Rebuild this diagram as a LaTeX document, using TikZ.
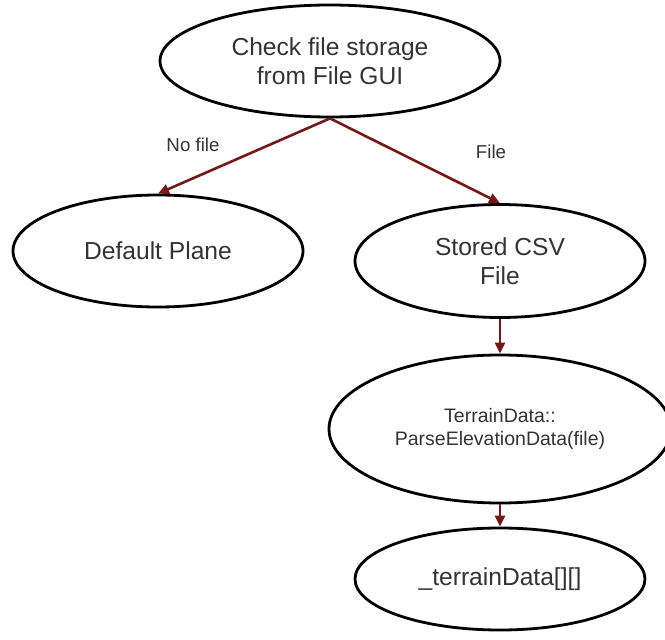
\documentclass[tikz,border=0pt]{standalone}
\usepackage{fontspec}
\setmainfont{Liberation Sans}
\usetikzlibrary{shapes.geometric,arrows.meta}
\definecolor{linkred}{HTML}{761818}
\definecolor{txtgray}{HTML}{333333}
\tikzset{
  oval/.style={ellipse, draw=black, line width=2.8pt, inner sep=0pt,
    text=txtgray, align=center, font=\fontsize{24.6}{29}\selectfont},
  flow/.style={draw=linkred, line width=2.6pt,
    -{Triangle[length=11pt,width=10pt]}},
  edgelabel/.style={text=txtgray, font=\fontsize{18.7}{22}\selectfont}
}
\begin{document}
\begin{tikzpicture}[x=1pt,y=-1pt]
  \useasboundingbox (0,0) rectangle (665,640);

  \node[oval, minimum width=340pt, minimum height=112pt] (check) at (330,61)
    {Check file storage\\from File GUI};
  \node[oval, minimum width=290pt, minimum height=112pt] (plane) at (158,251)
    {Default Plane};
  \node[oval, minimum width=290pt, minimum height=113pt] (csv) at (500,261)
    {Stored CSV\\File};
  \node[oval, minimum width=342pt, minimum height=148pt,
        font=\fontsize{19.5}{22.5}\selectfont] (parse) at (500,429)
    {TerrainData::\\ParseElevationData(file)};
  \node[oval, minimum width=290pt, minimum height=102pt] (grid) at (500,579)
    {\_terrainData[][]};

  \draw[flow] (check.south) -- (plane.north);
  \draw[flow] (check.south) -- (csv.north);
  \draw[flow] (csv.south) -- (parse.north);
  \draw[flow] (parse.south) -- (grid.north);

  \node[edgelabel] (nofile) at (193,145) {No file};
  \node[edgelabel] (yesfile) at (491,152) {File};
\end{tikzpicture}
\end{document}
